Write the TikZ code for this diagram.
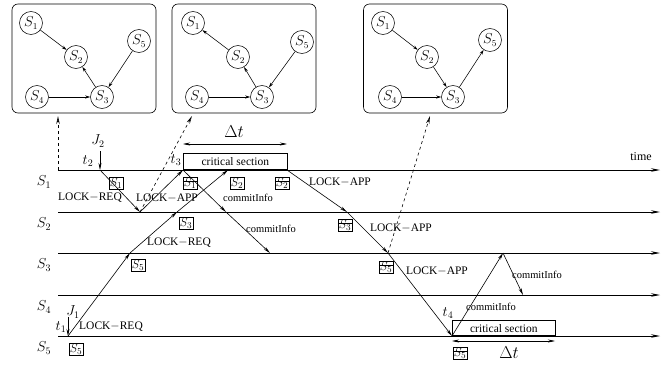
\documentclass[tikz,border=0pt]{standalone}
\usepackage{fontspec}
\setmainfont{Liberation Serif}
\usetikzlibrary{arrows.meta,calc}

\begin{document}
\begin{tikzpicture}[x=1pt,y=-1pt,
  panel/.style={draw,line width=0.6pt,rounded corners=6pt,minimum width=144pt,minimum height=109pt,inner sep=0},
  site/.style={draw,circle,line width=0.55pt,minimum size=23pt,inner sep=0,font=\fontsize{13.5}{15}\selectfont},
  tedge/.style={line width=0.55pt,-{Stealth[length=5pt,width=3pt]}},
  tline/.style={line width=0.75pt,-{Stealth[length=9pt,width=3.5pt]}},
  msg/.style={line width=0.6pt,-{Stealth[length=7pt,width=3pt]}},
  snap/.style={dashed,line width=0.6pt,-{Stealth[length=8pt,width=3.5pt,open]}},
  txt/.style={inner sep=0,font=\fontsize{11.5}{13}\selectfont},
  ctxt/.style={inner sep=0,font=\fontsize{10.5}{12}\selectfont},
  mlbl/.style={inner sep=0,font=\fontsize{14}{16}\selectfont},
  dlbl/.style={inner sep=0,font=\fontsize{17}{19}\selectfont},
  tok/.style={draw,line width=0.5pt,inner sep=1pt,font=\fontsize{13}{15}\selectfont},
  stok/.style={tok,path picture={\draw[line width=0.5pt]
     ($(path picture bounding box.north west)!0.32!(path picture bounding box.south west)$) --
     ($(path picture bounding box.north east)!0.32!(path picture bounding box.south east)$);}},
  csec/.style={draw,line width=0.6pt,anchor=south west,minimum height=16pt,inner sep=0,font=\fontsize{11.5}{13}\selectfont}
]
\useasboundingbox (0,0) rectangle (663,367);

% ---------- snapshots of the lock tree ----------
\node[panel] (boxA) at (84,58.5) {};
\node[site] (a1) at (31,23) {$S_1$};
\node[site] (a2) at (76,57) {$S_2$};
\node[site] (a5) at (139,41) {$S_5$};
\node[site] (a4) at (37,97) {$S_4$};
\node[site] (a3) at (102,97) {$S_3$};
\draw[tedge] (a1) -- (a2);
\draw[tedge] (a5) -- (a3);
\draw[tedge] (a4) -- (a3);
\draw[tedge] (a3) -- (a2);

\node[panel] (boxB) at (244,58.5) {};
\node[site] (b1) at (193,23) {$S_1$};
\node[site] (b2) at (238,57) {$S_2$};
\node[site] (b5) at (302,42) {$S_5$};
\node[site] (b4) at (197,97) {$S_4$};
\node[site] (b3) at (262,97) {$S_3$};
\draw[tedge] (b2) -- (b1);
\draw[tedge] (b3) -- (b2);
\draw[tedge] (b5) -- (b3);
\draw[tedge] (b4) -- (b3);

\node[panel] (boxC) at (435.5,58.5) {};
\node[site] (c1) at (383,23) {$S_1$};
\node[site] (c2) at (427,57) {$S_2$};
\node[site] (c5) at (490,40) {$S_5$};
\node[site] (c4) at (390,97) {$S_4$};
\node[site] (c3) at (453,97) {$S_3$};
\draw[tedge] (c1) -- (c2);
\draw[tedge] (c2) -- (c3);
\draw[tedge] (c3) -- (c5);
\draw[tedge] (c4) -- (c3);

% ---------- time lines ----------
\foreach \i/\y in {1/170,2/212,3/253,4/295,5/336}{
  \coordinate (L\i) at (58,\y);
  \coordinate (R\i) at (660,\y);
  \node[mlbl] (n\i) at (44,\y+12) {$S_{\i}$};
  \draw[tline] (L\i) -- (R\i);
}
\node[txt,font=\fontsize{12}{14}\selectfont] (time) at (641,157) {time};

% ---------- events ----------
\coordinate (P1) at (100,170);
\coordinate (P2) at (140,212);
\coordinate (P3) at (183,170);
\coordinate (P4) at (130,253);
\coordinate (P5) at (68,336);
\coordinate (P6) at (177,212);
\coordinate (P7) at (228,170);
\coordinate (P8) at (226,212);
\coordinate (P9) at (270,253);
\coordinate (P10) at (287,170);
\coordinate (P11) at (347,212);
\coordinate (P12) at (388,253);
\coordinate (P13) at (452,336);
\coordinate (P14) at (503,253);
\coordinate (P15) at (523,295);

% job arrivals
\coordinate (J2s) at (100,151);
\coordinate (J1s) at (68,317);
\draw[msg] (J2s) -- (P1);
\draw[msg] (J1s) -- (P5);
\node[mlbl] (j2) at (98,141) {$J_2$};
\node[mlbl] (t2) at (88,161) {$t_2$};
\node[mlbl] (j1) at (73,312) {$J_1$};
\node[mlbl] (t1) at (61,327) {$t_1$};

% snapshot pointers
\coordinate (sA) at (58,116);
\coordinate (sB) at (192,116);
\coordinate (sC) at (430,116);
\draw[snap] (L1) -- (sA);
\draw[snap] (P2) -- (sB);
\draw[snap] (P12) -- (sC);

% messages
\draw[msg] (P1) -- (P2);
\draw[msg] (P2) -- (P3);
\draw[msg] (P5) -- (P4);
\draw[msg] (P4) -- (P6);
\draw[msg] (P6) -- (P7);
\draw[msg] (P3) -- (P8);
\draw[msg] (P8) -- (P9);
\draw[msg] (P10) -- (P11);
\draw[msg] (P11) -- (P12);
\draw[msg] (P12) -- (P13);
\draw[msg] (P13) -- (P14);
\draw[msg] (P14) -- (P15);

% message labels
\node[txt] (m1) at (90,198) {LOCK$-$REQ};
\node[txt] (m2) at (167,198) {LOCK$-$APP};
\node[ctxt] (m3) at (248,198) {commitInfo};
\node[ctxt] (m4) at (271,229) {commitInfo};
\node[txt] (m5) at (179,243) {LOCK$-$REQ};
\node[txt] (m6) at (111,327) {LOCK$-$REQ};
\node[txt] (m7) at (340,182) {LOCK$-$APP};
\node[txt] (m8) at (401,228) {LOCK$-$APP};
\node[txt] (m9) at (437,271) {LOCK$-$APP};
\node[ctxt] (m10) at (491,307) {commitInfo};
\node[ctxt] (m11) at (537,275) {commitInfo};

% token markers
\node[tok] (k1) at (116,183) {$S_1$};
\node[stok] (k2) at (190,183) {$S_1$};
\node[tok] (k3) at (237,183) {$S_2$};
\node[stok] (k4) at (282,183) {$S_2$};
\node[tok] (k5) at (186,223) {$S_3$};
\node[stok] (k6) at (345,225) {$S_3$};
\node[tok] (k7) at (138,265) {$S_5$};
\node[stok] (k8) at (386,267) {$S_5$};
\node[tok] (k9) at (76,349) {$S_5$};
\node[stok] (k10) at (460,353) {$S_5$};

% critical sections
\node[csec,minimum width=104pt] (cs1) at (P3) {critical section};
\node[csec,minimum width=103pt,minimum height=15pt] (cs2) at (P13) {critical section};
\node[mlbl] (t3) at (176,160) {$t_3$};
\node[mlbl] (t4) at (448,313) {$t_4$};
\coordinate (d1a) at (183,144);
\coordinate (d1b) at (287,144);
\coordinate (d2a) at (452,341);
\coordinate (d2b) at (555,341);
\draw[line width=0.55pt,{Stealth[length=7pt,width=3pt]}-{Stealth[length=7pt,width=3pt]}] (d1a) -- (d1b);
\draw[line width=0.55pt,{Stealth[length=7pt,width=3pt]}-{Stealth[length=7pt,width=3pt]}] (d2a) -- (d2b);
\node[dlbl] (dt1) at (234,132) {$\Delta t$};
\node[dlbl] (dt2) at (509,353) {$\Delta t$};
\end{tikzpicture}
\end{document}
